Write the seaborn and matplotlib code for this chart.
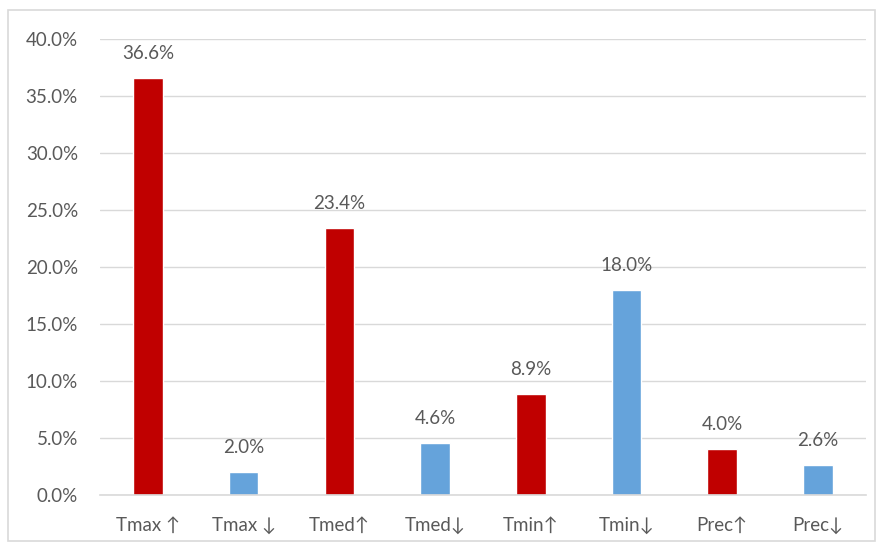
import matplotlib
matplotlib.use("Agg")
import matplotlib.pyplot as plt
import seaborn as sns
import pandas as pd
from matplotlib.patches import Rectangle
from matplotlib.ticker import FuncFormatter

# data
labels = ["Tmax ↑", "Tmax ↓", "Tmed↑", "Tmed↓", "Tmin↑", "Tmin↓", "Prec↑", "Prec↓"]
values = [36.6, 2.0, 23.4, 4.6, 8.9, 18.0, 4.0, 2.6]
direction = ["up", "down", "up", "down", "up", "down", "up", "down"]

df = pd.DataFrame({"label": labels, "value": values, "dir": direction})

sns.set_style("white")
plt.rcParams["font.family"] = ["Lato", "DejaVu Sans"]

fig = plt.figure(figsize=(8.78, 5.46), dpi=100)
ax = fig.add_axes([0.114, 0.0934, 0.872, 0.8352])

palette = {"up": "#C00000", "down": "#65A3DB"}
sns.barplot(data=df, x="label", y="value", hue="dir", palette=palette,
            dodge=False, width=0.31, legend=False, ax=ax, saturation=1)

ax.set_ylim(0, 40)
ax.set_xlim(-0.5, len(labels) - 0.5)
ax.set_yticks(range(0, 41, 5))
ax.yaxis.set_major_formatter(FuncFormatter(lambda v, p: f"{v:.1f}%"))
ax.grid(axis="y", color="#D9D9D9", linewidth=1)
ax.set_axisbelow(True)
for s in ["top", "right", "left"]:
    ax.spines[s].set_visible(False)
ax.spines["bottom"].set_color("#D9D9D9")
ax.spines["bottom"].set_linewidth(1.2)
ax.tick_params(axis="both", length=0, labelsize=13.5, colors="#595959")
ax.tick_params(axis="x", pad=16)
ax.tick_params(axis="y", pad=16)
ax.set_xlabel("")
ax.set_ylabel("")

# value labels
for i, v in enumerate(values):
    ax.text(i, v + 1.4, f"{v:.1f}%", ha="center", va="bottom",
            fontsize=13.5, color="#595959")

# light frame around the chart
fig.patches.append(Rectangle((0.009, 0.009), 0.988, 0.972, transform=fig.transFigure,
                             fill=False, edgecolor="#D9D9D9", linewidth=1.2))

fig.savefig("out.png", dpi=100)
